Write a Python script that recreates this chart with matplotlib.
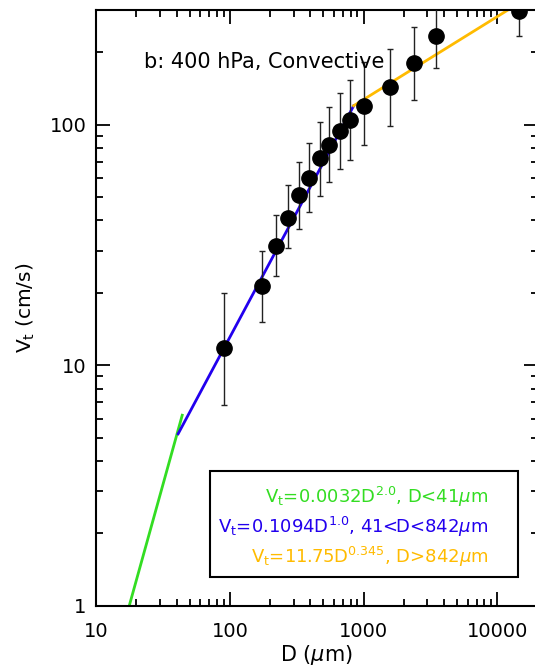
import numpy as np
import matplotlib
matplotlib.use('Agg')
import matplotlib.pyplot as plt
from matplotlib.ticker import LogLocator, NullFormatter, FixedLocator, FixedFormatter

# bin-mean diameters (um) and fall speeds (cm/s) with error bar limits
D_bin = [89.6, 173.8, 222.8, 273.6, 329.9, 393.4, 469.6, 553, 668, 796,
         1014, 1574, 2375, 3458, 14420]
vt_mean = [11.8, 21.3, 31.2, 40.9, 51.2, 60.0, 72.8, 82.6, 93.8, 105,
           120, 143, 181, 233, 296]
vt_hi = [20.0, 30.0, 42.2, 56.3, 70.0, 84.0, 103, 118.5, 136, 153,
         183, 206, 255, 310, 380]
vt_lo = [6.85, 15.2, 23.4, 30.7, 37.0, 43.4, 50.8, 57.8, 65.5, 71.6,
         82.6, 99.0, 127, 172, 233]

# power-law fits Vt = a * D^b for three size ranges
fit_a = [0.0032, 0.1094, 11.75]
fit_b = [2.0, 1.039, 0.345]
fit_range = [(17.0, 44.0), (41.0, 842.0), (842.0, 20000.0)]
fit_col = ['#33dd22', '#2200ee', '#ffbb00']
fit_text = [r'V$_{\rm t}$=0.0032D$^{%.1f}$, D<41$\mu$m' % fit_b[0],
            r'V$_{\rm t}$=0.1094D$^{%.1f}$, 41<D<842$\mu$m' % fit_b[1],
            r'V$_{\rm t}$=11.75D$^{%.3f}$, D>842$\mu$m' % fit_b[2]]

xticks = [10, 100, 1000, 10000]
yticks = [1, 10, 100]

plt.rcParams['font.family'] = 'DejaVu Sans'
plt.rcParams['mathtext.fontset'] = 'dejavusans'

fig = plt.figure(figsize=(5.35, 6.70), dpi=100)
ax = fig.add_axes([0.1798, 0.0960, 0.825, 0.889])

for a, b, (d0, d1), c in zip(fit_a, fit_b, fit_range, fit_col):
    d = np.logspace(np.log10(d0), np.log10(d1), 100)
    ax.plot(d, a * d ** b, color=c, lw=2.0, zorder=2)

yerr = [np.array(vt_mean) - np.array(vt_lo), np.array(vt_hi) - np.array(vt_mean)]
ax.errorbar(D_bin, vt_mean, yerr=yerr, fmt='o', color='black', ms=11,
            ecolor='#222222', elinewidth=1.0, capsize=2.0, capthick=1.0, zorder=3)

ax.set_xscale('log')
ax.set_yscale('log')
ax.set_xlim(10, 20000)
ax.set_ylim(1, 300)

ax.xaxis.set_major_locator(FixedLocator(xticks))
ax.xaxis.set_major_formatter(FixedFormatter([str(v) for v in xticks]))
ax.yaxis.set_major_locator(FixedLocator(yticks))
ax.yaxis.set_major_formatter(FixedFormatter([str(v) for v in yticks]))
ax.xaxis.set_minor_locator(LogLocator(base=10, subs=np.arange(2, 10)))
ax.yaxis.set_minor_locator(LogLocator(base=10, subs=np.arange(2, 10)))
ax.xaxis.set_minor_formatter(NullFormatter())
ax.yaxis.set_minor_formatter(NullFormatter())
ax.tick_params(which='both', direction='in', top=True, right=True, width=1.3,
               labelsize=14)
ax.tick_params(axis='x', pad=12)
ax.tick_params(axis='y', pad=7)
ax.tick_params(which='major', length=10)
ax.tick_params(which='minor', length=5)
for s in ax.spines.values():
    s.set_linewidth(1.5)

ax.set_xlabel(r'D ($\mu$m)', fontsize=15, labelpad=1)
ax.set_ylabel(r'V$_{\rm t}$ (cm/s)', fontsize=14.5, labelpad=9)

ax.text(0.108, 0.912, 'b: 400 hPa, Convective', transform=ax.transAxes,
        fontsize=15, va='center', ha='left')

# legend box with the three fit equations
box = plt.Rectangle((0.2588, 0.0489), 0.6975, 0.1770, transform=ax.transAxes,
                    fill=False, lw=1.5, edgecolor='black', zorder=4)
ax.add_patch(box)
for i, (t, c) in enumerate(zip(fit_text, fit_col)):
    ax.text(0.889, 0.182 - i * 0.0505, t, transform=ax.transAxes, color=c,
            fontsize=13, ha='right', va='center', zorder=5)

fig.savefig('out.png', dpi=100)
